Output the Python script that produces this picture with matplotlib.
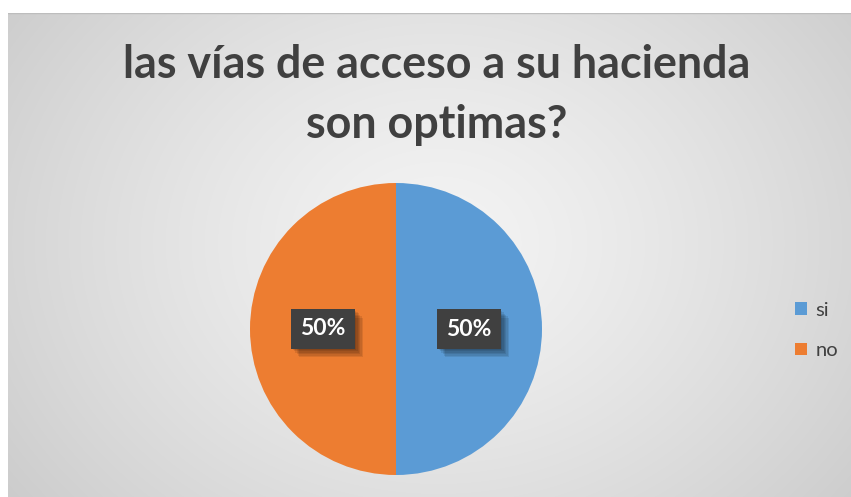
import numpy as np
import matplotlib
matplotlib.use("Agg")
import matplotlib.pyplot as plt
import matplotlib.patheffects as pe

title_lines = ["las vías de acceso a su hacienda", "son optimas?"]
categories = ["si", "no"]
values = [50, 50]
colors = ["#5B9BD5", "#ED7D31"]

W, H = 851, 497
fig = plt.figure(figsize=(W / 100, H / 100), dpi=100)
fig.patch.set_facecolor("white")

def fx(px):
    return px / W

def fy(py):
    return 1 - py / H

# background chart area with radial gradient
bg = fig.add_axes([fx(8), 0, fx(W - 8), 1 - 13 / H])
bg.set_axis_off()
yy, xx = np.mgrid[0:484, 0:843]
cx, cy = 430, 230
r = np.sqrt(((xx - cx) / 520.0) ** 2 + ((yy - cy) / 420.0) ** 2)
val = 0.955 - 0.15 * np.clip(r, 0, 1.2) ** 1.3
img = np.dstack([val, val, val])
bg.imshow(img, aspect="auto", extent=[0, 1, 0, 1], interpolation="bilinear")
bg.set_xlim(0, 1)
bg.set_ylim(0, 1)
bg.plot([0, 1], [0.999, 0.999], color="#BDBDBD", lw=1.0, transform=bg.transAxes)

# title
font = "Lato"
fig.canvas.draw()
renderer = fig.canvas.get_renderer()
fs = 30
t1 = fig.text(fx(436.5), fy(78), title_lines[0], ha="center", va="baseline",
              fontsize=fs, fontweight="bold", color="#404040", family=font)
w = t1.get_window_extent(renderer).width
fs = fs * 627 / w
t1.set_fontsize(fs)
t2 = fig.text(fx(436.5), fy(138), title_lines[1], ha="center", va="baseline",
              fontsize=fs, fontweight="bold", color="#404040", family=font)

# pie
R = 146
cxp, cyp = 396, 329
ax = fig.add_axes([fx(cxp - R), fy(cyp + R), 2 * R / W, 2 * R / H])
wedges, texts, autotexts = ax.pie(values, colors=colors, startangle=90,
                                  counterclock=False, autopct="%1.0f%%",
                                  pctdistance=0.5, radius=1,
                                  wedgeprops=dict(linewidth=0))
ax.set_xlim(-1, 1)
ax.set_ylim(-1, 1)
ax.set_aspect("auto")
shadow = [pe.SimplePatchShadow(offset=(o, -o), shadow_rgbFace="black", alpha=0.09)
          for o in (1, 2, 3, 4, 5, 6)]
for at in autotexts:
    at.set_color("white")
    at.set_fontsize(16.5)
    at.set_fontweight("bold")
    at.set_family(font)
    at.set_bbox(dict(boxstyle="square,pad=0.4", facecolor="#404040", edgecolor="none"))
    at.get_bbox_patch().set_path_effects(shadow + [pe.Normal()])

# legend
leg = fig.legend(wedges, categories, loc="center left",
                 bbox_to_anchor=(fx(795), fy(330.5)), frameon=False,
                 labelspacing=1.15, handlelength=0.6,
                 handleheight=0.6, handletextpad=0.4, borderpad=0,
                 borderaxespad=0, prop=dict(family=font, size=14.5))
for t in leg.get_texts():
    t.set_color("#404040")

fig.savefig("out.png", dpi=100)
